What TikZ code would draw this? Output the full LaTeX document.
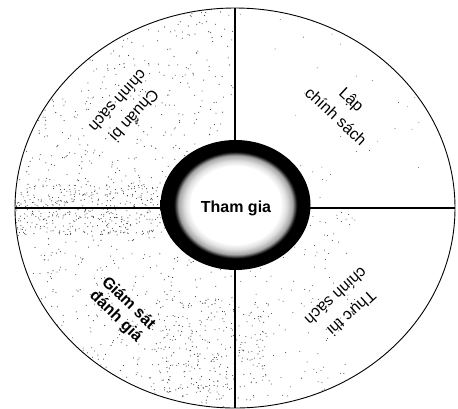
\documentclass[tikz,border=0pt]{standalone}
\usepackage{fontspec}
\setmainfont{Liberation Sans}
\usetikzlibrary{shapes.geometric}
\pgfdeclareradialshading{ringshade}{\pgfpoint{0bp}{0bp}}{%
  color(0bp)=(white); color(15bp)=(white); color(17bp)=(gray!25);
  color(19bp)=(gray!70); color(20.5bp)=(black); color(25bp)=(black); color(50bp)=(black)}
\newcommand\qfont{\fontsize{16}{19}\selectfont}
\tikzset{
  quadlabel/.style={align=center, inner sep=1pt},
  speck/.style={fill=black!75},
  divider/.style={line width=1.1pt},
}
\begin{document}
\begin{tikzpicture}[x=1pt,y=-1pt]
\useasboundingbox (0,0) rectangle (458,408);
\fill[white] (0,0) rectangle (458,408);
% speckle texture
\pgfmathsetseed{7}
\begin{scope}
  \clip (235,208) ellipse [x radius=220, y radius=200];
  \foreach \i in {1,...,1000}{
    \fill[speck] ({15+220*rnd},{8+400*rnd}) circle (0.55);
  }
  \foreach \i in {1,...,350}{
    \fill[speck] ({15+150*rnd},{185+50*rnd}) circle (0.55);
  }
  \foreach \i in {1,...,250}{
    \fill[speck] ({150+120*rnd},{300+100*rnd}) circle (0.55);
  }
  \foreach \i in {1,...,150}{
    \fill[speck] ({235+120*rnd},{208+190*rnd}) circle (0.5);
  }
  \foreach \i in {1,...,40}{
    \fill[speck] ({235+220*rnd},{8+200*rnd}) circle (0.45);
  }
\end{scope}
% outer ellipse and dividers
\coordinate (top) at (235,8);
\coordinate (bot) at (235,408);
\coordinate (lft) at (15,208);
\coordinate (rgt) at (455,208);
\draw[line width=0.9pt] (235,208) ellipse [x radius=220, y radius=200];
\draw[divider] (top) -- (bot);
\draw[divider] (lft) -- (rgt);
% centre ring
\shade[shading=ringshade] (235.5,205) ellipse [x radius=75, y radius=65];
\node[inner sep=1pt] (tham) at (236,208) {\fontsize{16}{18}\selectfont\bfseries Tham gia};
% quadrant labels
\node[quadlabel, rotate=-43] (lap) at (344,108) {\qfont Lập\\[7pt]\qfont chính sách};
\node[quadlabel, rotate=-132] (chuan) at (127,109) {\qfont Chuẩn bị\\[7pt]\qfont chính sách};
\node[quadlabel, rotate=-44] (giam) at (122,310) {\qfont\bfseries Giám sát\\[6pt]\qfont\bfseries đánh giá};
\node[quadlabel, rotate=-138] (thuc) at (344,305) {\qfont Thực thi\\[8pt]\qfont chính sách};
\end{tikzpicture}
\end{document}
